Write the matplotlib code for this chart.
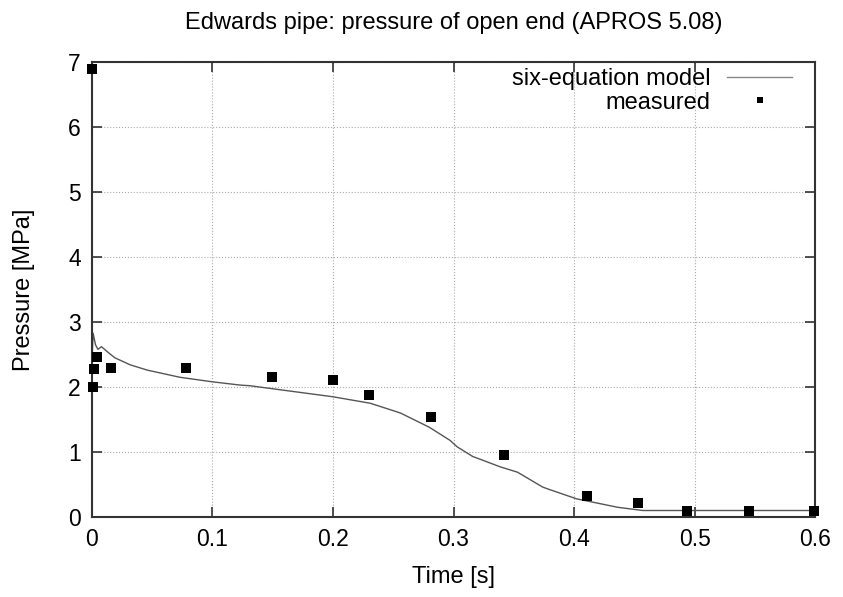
import matplotlib.pyplot as plt

plt.rcParams['font.family'] = ['Liberation Sans', 'DejaVu Sans']

# six-equation model (APROS 5.08)
model_t = [0.0, 0.0005, 0.001, 0.003, 0.005, 0.008, 0.013, 0.019, 0.032, 0.046,
           0.073, 0.1, 0.123, 0.131, 0.2, 0.231, 0.256, 0.28, 0.297, 0.303,
           0.316, 0.319, 0.339, 0.353, 0.374, 0.38, 0.402, 0.436, 0.457, 0.5, 0.6]
model_p = [2.25, 2.6, 2.83, 2.65, 2.58, 2.62, 2.54, 2.45, 2.34, 2.26,
           2.15, 2.08, 2.03, 2.02, 1.85, 1.75, 1.6, 1.38, 1.18, 1.08,
           0.93, 0.91, 0.77, 0.69, 0.46, 0.42, 0.28, 0.15, 0.1, 0.1, 0.1]

# measured
meas_t = [0.0, 0.001, 0.002, 0.004, 0.016, 0.078, 0.149, 0.2, 0.23, 0.281,
          0.342, 0.411, 0.453, 0.494, 0.545, 0.599]
meas_p = [6.9, 2.0, 2.28, 2.46, 2.3, 2.29, 2.16, 2.11, 1.88, 1.54,
          0.96, 0.32, 0.21, 0.1, 0.1, 0.1]

fig = plt.figure(figsize=(8.43, 5.97), dpi=100)
ax = fig.add_axes([0.109, 0.134, 0.858, 0.762])

ax.plot(model_t, model_p, color='#555555', linewidth=1.0, label='six-equation model')
ax.plot(meas_t, meas_p, linestyle='none', marker='s', color='black',
        markersize=6.5, markeredgewidth=0, label='measured', clip_on=False, zorder=5)

ax.set_xlim(0, 0.6)
ax.set_ylim(0, 7)
ax.set_xticks([0, 0.1, 0.2, 0.3, 0.4, 0.5, 0.6])
ax.set_xticklabels(['0', '0.1', '0.2', '0.3', '0.4', '0.5', '0.6'])
ax.set_yticks(range(8))
ax.grid(True, linestyle=':', color='#aaaaaa', linewidth=0.8)
ax.tick_params(direction='in', top=True, right=True, length=7, width=1.2,
               labelsize=16.5, color='#333333', pad=8)
for s in ax.spines.values():
    s.set_linewidth(1.5)
    s.set_color('#333333')

ax.set_xlabel('Time [s]', fontsize=17, labelpad=11)
ax.set_ylabel('Pressure [MPa]', fontsize=17, labelpad=24)
ax.set_title('Edwards pipe: pressure of open end (APROS 5.08)', fontsize=17, pad=24)

leg = ax.legend(loc='upper right', frameon=False, markerfirst=False, fontsize=17,
                handlelength=2.75, handletextpad=0.7, borderpad=0, borderaxespad=0,
                labelspacing=0.05, bbox_to_anchor=(0.968, 0.986))
leg.legend_handles[0].set_color('#888888')
leg.legend_handles[1].set_markersize(4.5)

fig.savefig('out.png', dpi=100)
